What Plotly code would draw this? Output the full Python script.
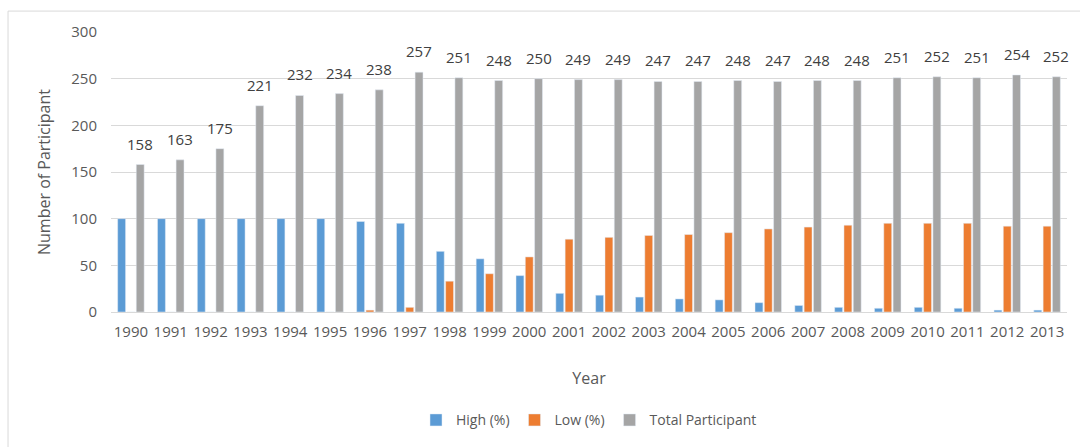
import plotly.graph_objects as go

years = [str(y) for y in range(1990, 2014)]
high_pct = [100, 100, 100, 100, 100, 100, 97, 95, 65, 57, 39, 20, 18, 16, 14, 13,
            10, 7, 5, 4, 5, 4, 2, 2]
low_pct = [0, 0, 0, 0, 0, 0, 2, 5, 33, 41, 59, 78, 80, 82, 83, 85,
           89, 91, 93, 95, 95, 95, 92, 92]
total_participant = [158, 163, 175, 221, 232, 234, 238, 257, 251, 248, 250, 249,
                     249, 247, 247, 248, 247, 248, 248, 251, 252, 251, 254, 252]

font_family = "Open Sans, Liberation Sans, sans-serif"
text_color = "#595959"
bargap = 0.3
n_series = 3

fig = go.Figure()
fig.add_trace(go.Bar(x=years, y=high_pct, name="High (%)", marker_color="#5B9BD5"))
fig.add_trace(go.Bar(x=years, y=low_pct, name="Low (%)", marker_color="#ED7D31"))
fig.add_trace(go.Bar(x=years, y=total_participant, name="Total Participant",
                     marker_color="#A5A5A5"))

# value labels above the Total Participant bars (third slot of each group);
# category positions are given as indices along the category axis
slot = (1 - bargap) / n_series
for i, val in enumerate(total_participant):
    fig.add_annotation(x=i + slot, y=val, text=str(val), showarrow=False,
                       xanchor="center", yanchor="bottom", yshift=9,
                       font=dict(size=15, color="#404040"))

# light frame around the whole chart area
fig.add_shape(type="rect", xref="paper", yref="paper",
              x0=-0.1077, x1=1.05, y0=-0.7, y1=1.0747,
              line=dict(color="#D9D9D9", width=1), fillcolor="rgba(0,0,0,0)", layer="below")

fig.update_layout(
    width=1080, height=447,
    margin=dict(l=111, r=13, t=32, b=134),
    paper_bgcolor="white", plot_bgcolor="white",
    barmode="group", bargap=bargap, bargroupgap=0.15,
    font=dict(family=font_family, color=text_color, size=15),
    showlegend=True,
    legend=dict(orientation="h", x=0.5, xanchor="center", y=-0.325, yanchor="top",
                font=dict(size=14, color=text_color), traceorder="normal",
                itemwidth=30, tracegroupgap=0),
    xaxis=dict(
        type="category", range=[-0.5, len(years) - 0.5],
        title=dict(text="Year", font=dict(size=16, color=text_color), standoff=32),
        showline=True, linecolor="#D9D9D9", linewidth=1,
        ticks="outside", ticklen=6, tickcolor="rgba(0,0,0,0)",
        tickfont=dict(size=15, color=text_color),
    ),
    yaxis=dict(
        title=dict(text="Number of Participant", font=dict(size=16, color=text_color), standoff=16),
        range=[0, 300], dtick=50, showgrid=True, gridcolor="#D9D9D9", gridwidth=1,
        zeroline=False, showline=False, ticks="outside", ticklen=10,
        tickcolor="rgba(0,0,0,0)", tickfont=dict(size=15, color=text_color),
    ),
)

fig.write_html("out.html")
